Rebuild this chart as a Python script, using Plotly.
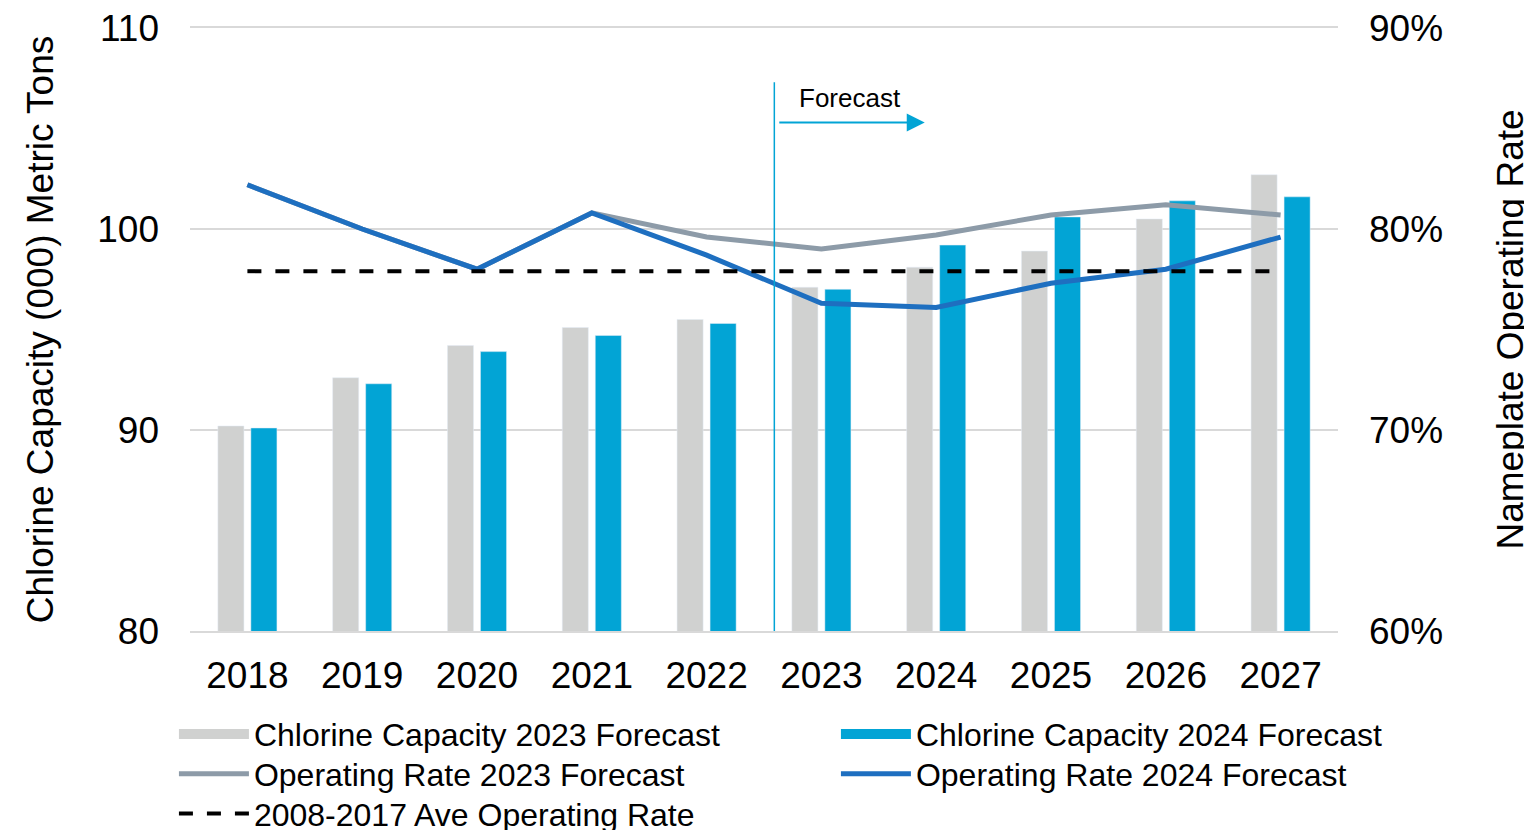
import plotly.graph_objects as go

FONT = "Liberation Sans, Arial, sans-serif"
GRAY_BAR = "#D0D1D0"
BLUE_BAR = "#02A4D5"
GRAY_LINE = "#8D9BA8"
BLUE_LINE = "#1E6FC0"
GRID = "#D9D9D9"

years = ["2018", "2019", "2020", "2021", "2022", "2023", "2024", "2025", "2026", "2027"]
capacity_2023 = [90.2, 92.6, 94.2, 95.1, 95.5, 97.1, 98.1, 98.9, 100.5, 102.7]
capacity_2024 = [90.1, 92.3, 93.9, 94.7, 95.3, 97.0, 99.2, 100.6, 101.4, 101.6]
rate_2023 = [0.822, 0.800, 0.780, 0.808, 0.796, 0.790, 0.797, 0.807, 0.812, 0.807]
rate_2024 = [0.822, 0.800, 0.780, 0.808, 0.787, 0.763, 0.761, 0.773, 0.780, 0.796]
ave_rate = [0.779] * len(years)

fig = go.Figure()
fig.add_trace(go.Bar(x=years, y=capacity_2023, name="Chlorine Capacity 2023 Forecast",
                     marker_color=GRAY_BAR, showlegend=False))
fig.add_trace(go.Bar(x=years, y=capacity_2024, name="Chlorine Capacity 2024 Forecast",
                     marker_color=BLUE_BAR, showlegend=False))
# legend keys for the bars (wide blocks, as in the original)
fig.add_trace(go.Scatter(x=[None], y=[None], mode="lines", name="Chlorine Capacity 2023 Forecast",
                         line=dict(color=GRAY_BAR, width=16), legend="legend"))
fig.add_trace(go.Scatter(x=[None], y=[None], mode="lines", name="Chlorine Capacity 2024 Forecast",
                         line=dict(color=BLUE_BAR, width=16), legend="legend"))
fig.add_trace(go.Scatter(x=years, y=rate_2023, name="Operating Rate 2023 Forecast", yaxis="y2",
                         mode="lines", line=dict(color=GRAY_LINE, width=5), legend="legend2"))
fig.add_trace(go.Scatter(x=years, y=rate_2024, name="Operating Rate 2024 Forecast", yaxis="y2",
                         mode="lines", line=dict(color=BLUE_LINE, width=5), legend="legend2"))
fig.add_trace(go.Scatter(x=years, y=ave_rate, name="2008-2017 Ave Operating Rate", yaxis="y2",
                         mode="lines", line=dict(color="black", width=4, dash="14px,14px"),
                         legend="legend3"))

# forecast divider and arrow
fig.add_shape(type="line", xref="x", yref="paper", x0=4.59, x1=4.59, y0=0, y1=0.91,
              line=dict(color=BLUE_BAR, width=1.5))
fig.add_annotation(x=5.9, y=105.3, ax=4.62, ay=105.3, xref="x", yref="y", axref="x", ayref="y",
                   text="", showarrow=True, arrowhead=2, arrowsize=1.8, arrowwidth=2,
                   arrowcolor=BLUE_BAR)
fig.add_annotation(x=5.25, y=106.5, xref="x", yref="y", text="Forecast", showarrow=False,
                   font=dict(size=26, color="black", family=FONT))

leg = dict(orientation="h", x=-0.014, xanchor="left", yanchor="middle",
           entrywidth=577, entrywidthmode="pixels", itemwidth=70,
           font=dict(size=32, family=FONT), bgcolor="rgba(0,0,0,0)")

fig.update_layout(
    width=1532, height=830,
    margin=dict(l=182, r=202, t=20, b=207, autoexpand=False),
    paper_bgcolor="white", plot_bgcolor="white",
    font=dict(family=FONT, color="black"),
    barmode="group", bargap=0.425, bargroupgap=0.21,
    showlegend=True,
    legend=dict(leg, y=-0.171),
    legend2=dict(leg, y=-0.237),
    legend3=dict(leg, y=-0.303),
    # bottom/top lines stand in for the 80 and 110 gridlines
    xaxis=dict(showgrid=False, tickfont=dict(size=37), ticks="", ticklabelstandoff=11,
               showline=True, linecolor=GRID, linewidth=1.5, mirror=True,
               automargin=False, ticklabeloverflow="allow"),
    yaxis=dict(range=[80, 110], dtick=10, showgrid=True, gridcolor=GRID, gridwidth=1.5,
               zeroline=False, tickfont=dict(size=37), ticklabelstandoff=30, automargin=False,
               ticklabeloverflow="allow",
               title=dict(text="Chlorine Capacity (000) Metric Tons", font=dict(size=37), standoff=32)),
    yaxis2=dict(range=[0.6, 0.9], dtick=0.1, tickformat=".0%", overlaying="y", side="right",
                showgrid=False, zeroline=False, tickfont=dict(size=37), ticklabelstandoff=30,
                automargin=False, ticklabeloverflow="allow",
                title=dict(text="Nameplate Operating Rate", font=dict(size=37), standoff=55)),
)

fig.write_html("out.html")
